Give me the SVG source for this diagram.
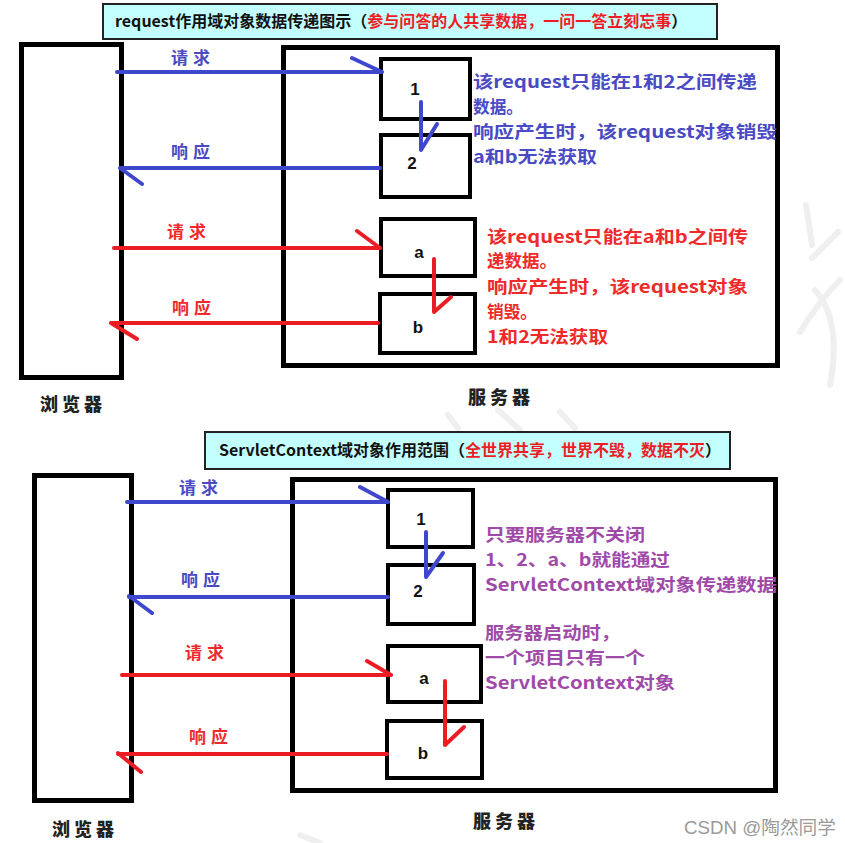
<svg xmlns="http://www.w3.org/2000/svg" width="845" height="843" viewBox="0 0 845 843">
<style>
.frame{fill:#fff;stroke:#000;stroke-width:5}
.box{fill:#fff;stroke:#000;stroke-width:4}
.title{fill:#c4ffff;stroke:#222;stroke-width:2}
.tt{font-family:"Noto Sans CJK SC","Liberation Sans",sans-serif;font-size:16px;font-weight:bold;fill:#111}
.red{fill:#ee1c24}
.lbl{font-family:"Liberation Sans",Arial,sans-serif;font-size:17px;font-weight:bold;fill:#111;text-anchor:middle}
.note{font-family:"Noto Sans CJK SC","Liberation Mono",sans-serif;font-size:17px;font-weight:600}
.bt{fill:#4a4ac4}
.rt{fill:#ee2a2a}
.pt{fill:#a04aa8}
.al{font-family:"Noto Sans CJK SC",serif;font-size:17px;font-weight:bold;letter-spacing:5px}
.cap{font-family:"Noto Sans CJK SC",serif;font-size:18px;font-weight:900;fill:#222;letter-spacing:4px}
.bl{stroke:#3f48cc;stroke-width:4;fill:none;stroke-linecap:round;stroke-linejoin:round}
.rl{stroke:#ec1c24;stroke-width:4;fill:none;stroke-linecap:round;stroke-linejoin:round}
.wm{stroke:#efefef;stroke-width:6;fill:none;stroke-linecap:round}
</style>
<g id="watermark-bg">
<path class="wm" d="M806 205 L812 245 M812 258 L838 232 M815 290 Q842 320 830 385 M800 332 Q820 300 840 280"/>
<path class="wm" d="M448 415 L458 428 M498 410 L520 430 M560 412 L575 428 M300 835 L320 843"/>
</g>
<g id="title1">
<rect class="title" x="103" y="4" width="614" height="35"/>
<text class="tt" x="115" y="27">request作用域对象数据传递图示（<tspan class="red">参与问答的人共享数据，一问一答立刻忘事</tspan>）</text>
</g>
<g id="browser1">
<rect class="frame" x="21.5" y="44.5" width="100" height="333"/>
<text class="cap" x="40" y="411">浏览器</text>
</g>
<g id="server1">
<rect class="frame" x="283.5" y="47.5" width="494" height="318"/>
<text class="cap" x="468" y="404">服务器</text>
</g>
<g id="n1-top"><rect class="box" x="381" y="59" width="89" height="60"/><text class="lbl" x="415" y="95">1</text></g>
<g id="n2-top"><rect class="box" x="381" y="135" width="89" height="62"/><text class="lbl" x="412" y="169">2</text></g>
<g id="na-top"><rect class="box" x="381" y="219" width="94" height="57"/><text class="lbl" x="419" y="258">a</text></g>
<g id="nb-top"><rect class="box" x="380" y="294" width="95" height="59"/><text class="lbl" x="418" y="333">b</text></g>
<g id="note-top-blue" class="note bt">
<text x="473" y="88" textLength="284" lengthAdjust="spacingAndGlyphs">该request只能在1和2之间传递</text>
<text x="473" y="113" textLength="50" lengthAdjust="spacingAndGlyphs">数据。</text>
<text x="473" y="138" textLength="304" lengthAdjust="spacingAndGlyphs">响应产生时，该request对象销毁</text>
<text x="473" y="163" textLength="124" lengthAdjust="spacingAndGlyphs">a和b无法获取</text>
</g>
<g id="note-top-red" class="note rt">
<text x="487" y="243" textLength="261" lengthAdjust="spacingAndGlyphs">该request只能在a和b之间传</text>
<text x="487" y="267" textLength="70" lengthAdjust="spacingAndGlyphs">递数据。</text>
<text x="487" y="293" textLength="261" lengthAdjust="spacingAndGlyphs">响应产生时，该request对象</text>
<text x="487" y="318" textLength="50" lengthAdjust="spacingAndGlyphs">销毁。</text>
<text x="487" y="343" textLength="121" lengthAdjust="spacingAndGlyphs">1和2无法获取</text>
</g>
<g id="title2">
<rect class="title" x="205" y="432" width="525" height="37"/>
<text class="tt" x="219" y="456">ServletContext域对象作用范围（<tspan class="red">全世界共享，世界不毁，数据不灭</tspan>）</text>
</g>
<g id="browser2">
<rect class="frame" x="34.5" y="475.5" width="97" height="325"/>
<text class="cap" x="52" y="836">浏览器</text>
</g>
<g id="server2">
<rect class="frame" x="292.5" y="479.5" width="483" height="311"/>
<text class="cap" x="473" y="828">服务器</text>
</g>
<g id="n1-bot"><rect class="box" x="388" y="490" width="85" height="57"/><text class="lbl" x="421" y="525">1</text></g>
<g id="n2-bot"><rect class="box" x="388" y="565" width="86" height="59"/><text class="lbl" x="418" y="597">2</text></g>
<g id="na-bot"><rect class="box" x="388" y="646" width="93" height="56"/><text class="lbl" x="424" y="684">a</text></g>
<g id="nb-bot"><rect class="box" x="387" y="721" width="95" height="57"/><text class="lbl" x="423" y="759">b</text></g>
<g id="note-bot" class="note pt">
<text x="485" y="541" textLength="160" lengthAdjust="spacingAndGlyphs">只要服务器不关闭</text>
<text x="485" y="566" textLength="185" lengthAdjust="spacingAndGlyphs">1、2、a、b就能通过</text>
<text x="485" y="591" textLength="292" lengthAdjust="spacingAndGlyphs">ServletContext域对象传递数据</text>
<text x="485" y="639" textLength="135" lengthAdjust="spacingAndGlyphs">服务器启动时，</text>
<text x="485" y="664" textLength="160" lengthAdjust="spacingAndGlyphs">一个项目只有一个</text>
<text x="485" y="689" textLength="190" lengthAdjust="spacingAndGlyphs">ServletContext对象</text>
</g>
<g id="connectors">
<path class="bl" d="M117 72 H382 M352 58 L382 72"/>
<path class="bl" d="M380 168 H120 M120 168 L142 184"/>
<path class="bl" d="M421 102 V150 L437 124"/>
<path class="rl" d="M114 248 H380 M357 231 L380 248"/>
<path class="rl" d="M378 323 H111 M111 323 L137 339"/>
<path class="rl" d="M434 259 V312 L451 297"/>
<path class="bl" d="M127 502 H388 M360 487 L388 502"/>
<path class="bl" d="M388 597 H129 M129 596 L152 613"/>
<path class="bl" d="M426 532 V577 L443 553"/>
<path class="rl" d="M122 675 H391 M367 661 L391 675"/>
<path class="rl" d="M387 754 H118 M118 753 L141 772"/>
<path class="rl" d="M445 681 V745 L464 727"/>
</g>
<g id="arrow-labels" class="al">
<text class="bt" x="171" y="64">请求</text>
<text class="bt" x="171" y="158">响应</text>
<text class="rt" x="167" y="238">请求</text>
<text class="rt" x="172" y="314">响应</text>
<text class="bt" x="179" y="494">请求</text>
<text class="bt" x="181" y="586">响应</text>
<text class="rt" x="185" y="659">请求</text>
<text class="rt" x="189" y="743">响应</text>
</g>
<g id="csdn">
<text x="684" y="834" textLength="152" lengthAdjust="spacingAndGlyphs" style="font-family:'Liberation Sans','Noto Sans CJK SC',sans-serif;font-size:18px;fill:#9a9a9a">CSDN @陶然同学</text>
</g>
</svg>
